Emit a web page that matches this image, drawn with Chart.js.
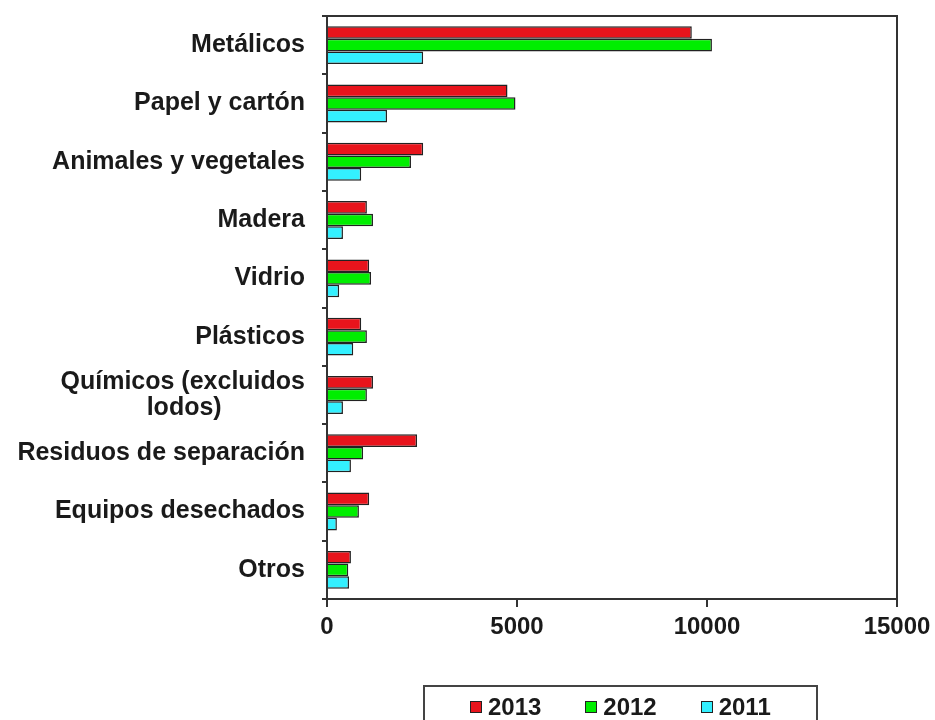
<!DOCTYPE html>
<html>
<head>
<meta charset="utf-8">
<script src="https://cdn.jsdelivr.net/npm/chart.js@4.4.0/dist/chart.umd.min.js"></script>
<style>
    body { margin: 0; background: #fff; }
    #wrap { position: relative; width: 935px; height: 720px; overflow: hidden; }
    #legend {
        position: absolute; left: 423px; top: 685px; width: 395px; height: 60px;
        border: 2px solid #444; display: flex; padding: 6px 0 0 45px; box-sizing: border-box;
        font: bold 24px "Liberation Sans", Arial, sans-serif; color: #1a1a1a;
    }
    #legend .item { width: 118px; display: flex; align-items: center; height: 28px; }
    #legend .box { width: 10px; height: 10px; border: 1.5px solid #222; margin-right: 6px; }
</style>
</head>
<body>
<div id="wrap">
    <canvas id="chart" width="935" height="720"></canvas>
    <div id="legend"></div>
</div>
<script>
// Categorias (de cima para baixo)
const categorias = [
    'Metálicos',
    'Papel y cartón',
    'Animales y vegetales',
    'Madera',
    'Vidrio',
    'Plásticos',
    ['Químicos (excluidos', 'lodos)'],
    'Residuos de separación',
    'Equipos desechados',
    'Otros'
];
const anos = ['2013', '2012', '2011'];
const valores2013 = [9600, 4750, 2530, 1050, 1110, 900, 1210, 2370, 1110, 630];
const valores2012 = [10130, 4960, 2210, 1210, 1160, 1050, 1050, 950, 840, 560];
const valores2011 = [2530, 1580, 900, 420, 320, 690, 420, 630, 260, 580];
const ticksX = [0, 5000, 10000, 15000];

const cores = ['#E8141C', '#00EE00', '#33F0FF'];
const fonte = '"Liberation Sans", Arial, sans-serif';
const corTexto = '#1a1a1a';

// Centraliza linhas de um rótulo com várias linhas (usando espaços)
const medidor = document.createElement('canvas').getContext('2d');
function centralizarLinhas(linhas) {
    medidor.font = 'bold 25px ' + fonte;
    const larguras = linhas.map(l => medidor.measureText(l).width);
    const maior = Math.max(...larguras);
    const esp = medidor.measureText('\u00a0').width;
    return linhas.map((l, i) => l + '\u00a0'.repeat(Math.round((maior - larguras[i]) / 2 / esp)));
}

// Moldura da área do gráfico (topo e direita)
const moldura = {
    id: 'moldura',
    afterDraw(chart) {
        const { ctx, chartArea: a } = chart;
        ctx.save();
        ctx.strokeStyle = '#333';
        ctx.lineWidth = 2;
        ctx.strokeRect(a.left, a.top, a.right - a.left, a.bottom - a.top);
        ctx.restore();
    }
};

const ctx = document.getElementById('chart').getContext('2d');
const grafico = new Chart(ctx, {
    type: 'bar',
    data: {
        labels: categorias,
        datasets: [valores2013, valores2012, valores2011].map((v, i) => ({
            label: anos[i],
            data: v,
            backgroundColor: cores[i],
            borderColor: '#222',
            borderWidth: 1.5,
            categoryPercentage: 0.65,
            barPercentage: 1
        }))
    },
    options: {
        indexAxis: 'y',
        responsive: false,
        animation: false,
        layout: { padding: { top: 16, right: 38, bottom: 0, left: 0 } },
        plugins: {
            legend: { display: false },
            tooltip: { enabled: false }
        },
        scales: {
            x: {
                min: 0,
                max: 15000,
                afterBuildTicks: s => { s.ticks = ticksX.map(v => ({ value: v })); },
                afterFit: s => { s.height = 121; s.paddingLeft = 0; s.paddingRight = 0; },
                grid: { drawOnChartArea: false, tickLength: 8, color: '#333', lineWidth: 2 },
                border: { color: '#333', width: 2 },
                ticks: {
                    padding: 6,
                    color: corTexto,
                    font: { family: fonte, size: 24, weight: 'bold' },
                    callback: v => String(v)
                }
            },
            y: {
                afterFit: s => { s.width = 327; s.paddingTop = 0; s.paddingBottom = 0; },
                grid: { drawOnChartArea: false, tickLength: 5, color: '#333', lineWidth: 2 },
                border: { color: '#333', width: 2 },
                ticks: {
                    padding: 17,
                    color: corTexto,
                    font: { family: fonte, size: 25, weight: 'bold', lineHeight: 1.05 },
                    callback: function(valor) {
                        const l = this.getLabelForValue(valor);
                        return Array.isArray(l) ? centralizarLinhas(l) : l;
                    }
                }
            }
        }
    },
    plugins: [moldura]
});

// Legenda em HTML
const legenda = document.getElementById('legend');
grafico.data.datasets.forEach(ds => {
    const item = document.createElement('div');
    item.className = 'item';
    const caixa = document.createElement('span');
    caixa.className = 'box';
    caixa.style.background = ds.backgroundColor;
    item.appendChild(caixa);
    item.appendChild(document.createTextNode(ds.label));
    legenda.appendChild(item);
});
</script>
</body>
</html>
